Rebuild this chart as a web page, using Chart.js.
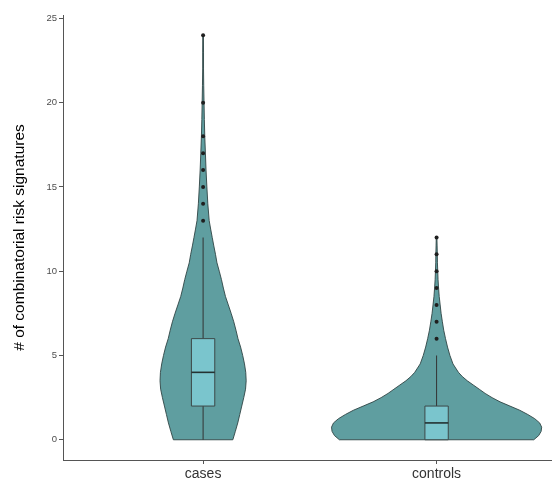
<!DOCTYPE html>
<html>
<head>
<meta charset="utf-8">
<script src="https://cdn.jsdelivr.net/npm/chart.js@4/dist/chart.umd.min.js"></script>
<style>
  html, body { margin: 0; padding: 0; background: #ffffff; }
  #wrap { width: 555px; height: 479px; }
</style>
</head>
<body>
<div id="wrap"><canvas id="c" width="555" height="479"></canvas></div>
<script>
// ---------------- data ----------------
const categories = ["cases", "controls"];
const yTicks = [0, 5, 10, 15, 20, 25];

// violin outlines: value levels and relative density (half-width)
const casesLevels = [0,0.5,1,1.5,2,2.5,3,3.5,4,4.5,5,5.5,6,6.5,7,7.5,8,8.5,9,9.5,10,10.5,11,11.5,12,12.5,13,14,15,16,17,18,19,20,21,22,23,24];
const casesDensity = [0.283,0.307,0.330,0.349,0.368,0.387,0.404,0.410,0.406,0.394,0.377,0.357,0.332,0.313,0.292,0.267,0.240,0.213,0.193,0.175,0.154,0.132,0.118,0.102,0.087,0.072,0.058,0.045,0.036,0.028,0.022,0.016,0.012,0.009,0.006,0.004,0.004,0.003];
const controlsLevels = [0,0.25,0.5,0.75,1,1.25,1.5,1.75,2,2.25,2.5,2.75,3,3.25,3.5,3.75,4,4.5,5,5.5,6,6.5,7,7.5,8,8.5,9,9.5,10,10.5,11,11.5,12];
const controlsDensity = [0.925,0.972,0.995,1.0,0.981,0.934,0.868,0.792,0.698,0.604,0.528,0.462,0.406,0.349,0.292,0.245,0.208,0.156,0.127,0.104,0.085,0.068,0.055,0.043,0.034,0.025,0.019,0.014,0.011,0.008,0.007,0.005,0.003];

// box statistics: [lower whisker, Q1, median, Q3, upper whisker]
const casesBox = [0, 2, 4, 6, 12];
const controlsBox = [0, 0, 1, 2, 5];

// outliers
const casesOutliers = [13, 14, 15, 16, 17, 18, 20, 24];
const controlsOutliers = [6, 7, 8, 9, 10, 11, 12];

// ---------------- drawing ----------------
const violins = [
  { pos: 1, levels: casesLevels, dens: casesDensity, box: casesBox },
  { pos: 2, levels: controlsLevels, dens: controlsDensity, box: controlsBox }
];
const VIOLIN_HALF = 0.45;
const BOX_HALF = 0.05;

const violinPlugin = {
  id: 'violinPlugin',
  beforeDatasetsDraw(chart) {
    const ctx = chart.ctx;
    const xs = chart.scales.x, ys = chart.scales.y;
    violins.forEach(v => {
      ctx.save();
      ctx.beginPath();
      const n = v.levels.length;
      for (let i = 0; i < n; i++) {
        const px = xs.getPixelForValue(v.pos - v.dens[i] * VIOLIN_HALF);
        const py = ys.getPixelForValue(v.levels[i]);
        if (i === 0) ctx.moveTo(px, py); else ctx.lineTo(px, py);
      }
      for (let i = n - 1; i >= 0; i--) {
        const px = xs.getPixelForValue(v.pos + v.dens[i] * VIOLIN_HALF);
        const py = ys.getPixelForValue(v.levels[i]);
        ctx.lineTo(px, py);
      }
      ctx.closePath();
      ctx.fillStyle = '#5F9EA0';
      ctx.fill();
      ctx.lineWidth = 0.9;
      ctx.strokeStyle = '#2f4444';
      ctx.lineJoin = 'round';
      ctx.stroke();

      const b = v.box;
      const xl = xs.getPixelForValue(v.pos - BOX_HALF);
      const xr = xs.getPixelForValue(v.pos + BOX_HALF);
      const xc = xs.getPixelForValue(v.pos);
      const yLo = ys.getPixelForValue(b[0]);
      const yQ1 = ys.getPixelForValue(b[1]);
      const yMed = ys.getPixelForValue(b[2]);
      const yQ3 = ys.getPixelForValue(b[3]);
      const yHi = ys.getPixelForValue(b[4]);
      ctx.strokeStyle = '#333333';
      ctx.lineWidth = 1;
      ctx.beginPath();
      ctx.moveTo(xc, yQ3); ctx.lineTo(xc, yHi);
      ctx.moveTo(xc, yQ1); ctx.lineTo(xc, yLo);
      ctx.stroke();
      ctx.fillStyle = '#7AC5CD';
      ctx.fillRect(xl, yQ3, xr - xl, yQ1 - yQ3);
      ctx.strokeStyle = '#3d4848';
      ctx.strokeRect(xl, yQ3, xr - xl, yQ1 - yQ3);
      ctx.beginPath();
      ctx.lineWidth = 1.6;
      ctx.strokeStyle = '#243232';
      ctx.moveTo(xl, yMed); ctx.lineTo(xr, yMed);
      ctx.stroke();
      ctx.restore();
    });
  }
};

const outlierData = [
  ...casesOutliers.map(v => ({ x: 1, y: v })),
  ...controlsOutliers.map(v => ({ x: 2, y: v }))
];

new Chart(document.getElementById('c'), {
  type: 'scatter',
  data: {
    datasets: [{
      data: outlierData,
      pointRadius: 2,
      pointBackgroundColor: '#1f1f1f',
      pointBorderColor: '#1f1f1f',
      pointBorderWidth: 0,
      showLine: false,
      clip: false
    }]
  },
  options: {
    responsive: false,
    animation: false,
    devicePixelRatio: 1,
    layout: { padding: { top: 15, right: 0, bottom: 0, left: 0 } },
    plugins: { legend: { display: false }, tooltip: { enabled: false } },
    scales: {
      x: {
        type: 'linear',
        min: 0.4,
        max: 2.49,
        afterBuildTicks: (s) => { s.ticks = categories.map((c, i) => ({ value: i + 1 })); },
        afterFit: (s) => { s.height = 19; s.paddingRight = 0; s.paddingLeft = 0; },
        ticks: {
          callback: (v) => categories[Math.round(v) - 1],
          autoSkip: false,
          maxRotation: 0,
          padding: 2,
          color: '#333333',
          font: { family: 'Liberation Sans, Arial, sans-serif', size: 14 }
        },
        grid: { display: true, drawOnChartArea: false, drawTicks: true, tickLength: 4, color: '#555555' },
        border: { display: true, color: '#555555', width: 1 }
      },
      y: {
        type: 'linear',
        min: -1.2,
        max: 25.2,
        afterBuildTicks: (s) => { s.ticks = yTicks.map(v => ({ value: v })); },
        afterFit: (s) => { s.width = 63; s.paddingTop = 0; s.paddingBottom = 0; },
        ticks: {
          padding: 2,
          color: '#4d4d4d',
          font: { family: 'Liberation Sans, Arial, sans-serif', size: 9.5 }
        },
        grid: { display: true, drawOnChartArea: false, drawTicks: true, tickLength: 4, color: '#555555' },
        border: { display: true, color: '#555555', width: 1 },
        title: {
          display: true,
          text: '# of combinatorial risk signatures',
          color: '#000000',
          font: { family: 'Liberation Sans, Arial, sans-serif', size: 15.5 },
          padding: { top: 10, bottom: 0 }
        }
      }
    }
  },
  plugins: [violinPlugin]
});
</script>
</body>
</html>
